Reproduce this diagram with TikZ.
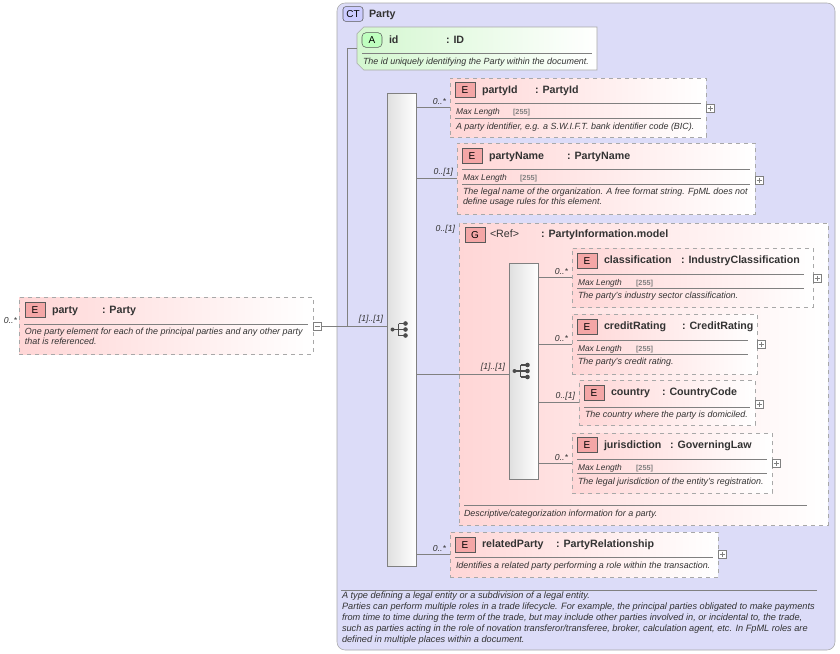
\documentclass[tikz,border=0pt]{standalone}
\usepackage{fontspec}
\setmainfont{Liberation Sans}
\usetikzlibrary{fit,calc}
\definecolor{ctblue}{HTML}{DCDCF8}
\definecolor{elred}{HTML}{FFD6D6}
\definecolor{badgered}{HTML}{F4A6A6}
\definecolor{attgreen}{HTML}{D4F7D0}
\definecolor{frame}{HTML}{A8A8A8}
\begin{document}
\begin{tikzpicture}[x=0.75pt, y=-0.75pt, inner sep=0, outer sep=0,
  elem/.style={draw=frame, dashed, left color=elred, right color=white, line width=0.6pt},
  badge/.style={draw=gray!70!black, fill=badgered, minimum width=15pt, minimum height=11pt, font=\fontsize{7.5}{8}\selectfont},
  ttl/.style={anchor=base west, font=\fontsize{8}{9}\selectfont\bfseries, text=black!80},
  desc/.style={anchor=base west, font=\fontsize{6.7}{7}\selectfont\itshape, text=black!80},
  mlen/.style={anchor=base west, font=\fontsize{6.3}{7}\selectfont\itshape, text=black!80},
  facet/.style={anchor=base west, font=\fontsize{5.5}{7}\selectfont\bfseries, text=gray},
  card/.style={font=\fontsize{6.5}{7}\selectfont\itshape, text=black!80},
  sep/.style={draw=gray, line width=0.5pt},
  link/.style={draw=gray, line width=0.5pt},
  seqbox/.style={draw=gray, left color=gray!25, right color=white, line width=0.5pt},
  togg/.style={draw=gray, fill=white, minimum size=6pt, line width=0.4pt},
  seqicon/.pic={
    \fill[black!70] (-9,0) circle (2);
    \draw[black!70, line width=0.9pt] (-9,0) -- (-3,0) (-3,-6) -- (-3,6) (-3,-6) -- (4,-6) (-3,0) -- (4,0) (-3,6) -- (4,6);
    \fill[black!70] (4,-6) circle (2.3) (4,0) circle (2.3) (4,6) circle (2.3);
  }]
  \useasboundingbox (0,0) rectangle (840,654);

  % complex type
  \node[draw=frame, fill=ctblue, rounded corners=6pt, fit={(337,3)(835,650)}] (ct) {};
  \node[badge, fill=blue!20, rounded corners=2pt] (ctbadge) at (353,14) {CT};
  \node[ttl] (cttitle) at (369,17) {Party};
  \draw[sep] (341,590) -- (817,590);
  \node[desc, align=left, anchor=north west, font=\fontsize{6.9}{8.2}\selectfont\itshape] (ctdesc) at (342,592) {A type defining a legal entity or a subdivision of a legal entity.\\
    Parties can perform multiple roles in a trade lifecycle. For example, the principal parties obligated to make payments\\
    from time to time during the term of the trade, but may include other parties involved in, or incidental to, the trade,\\
    such as parties acting in the role of novation transferor/transferee, broker, calculation agent, etc. In FpML roles are\\
    defined in multiple places within a document.};

  % attribute id
  \node[fit={(357,27)(597,70)}] (id) {};
  \draw[draw=frame, left color=attgreen, right color=white]
    ([xshift=5pt]id.north west) -- (id.north east) -- (id.south east) -- ([xshift=5pt]id.south west)
    -- ([yshift=5pt]id.south west) -- ([yshift=-5pt]id.north west) -- cycle;
  \node[badge, fill=green!25, rounded corners=3pt] (idbadge) at (372,40) {A};
  \node[ttl] (idname) at (389,43) {id};
  \node[ttl] (idtype) at (446,43) {: ID};
  \draw[sep] (362,53) -- (592,53);
  \node[desc] (iddesc) at (363,64) {The id uniquely identifying the Party within the document.};

  % element party
  \node[elem, fit={(19,297)(313,354)}] (party) {};
  \node[badge] (partybadge) at (35,310) {E};
  \node[ttl] (partyname) at (52,313) {party};
  \node[ttl] (partytype) at (102,313) {: Party};
  \draw[sep] (24,324) -- (308,324);
  \node[desc] (partydesc1) at (25,334) {One party element for each of the principal parties and any other party};
  \node[desc] (partydesc2) at (25,344) {that is referenced.};
  \node[card, anchor=base east] (partycard) at (17,323) {0..*};
  \node[togg] (partytog) at (317,326) {};
  \draw[gray] (314.5,326) -- (319.5,326);

  % outer sequence
  \node[seqbox, fit={(387,93)(416,566)}] (outseq) {};
  \pic at (outseq.center) {seqicon};
  \coordinate (ctjoin) at (347,326);
  \draw[link] (partytog.east) -- (ctjoin) |- (id.west);
  \draw[link] (ctjoin) -- (outseq.west |- ctjoin) node[card, pos=1, anchor=south east, xshift=-3pt, yshift=2pt] {[1]..[1]};

  % partyId
  \node[elem, fit={(450,78)(706,137)}] (partyid) {};
  \node[badge] (pidbadge) at (465,90) {E};
  \node[ttl] (pidname) at (482,93) {partyId};
  \node[ttl] (pidtype) at (535,93) {: PartyId};
  \draw[sep] (455,103) -- (701,103);
  \node[mlen] (pidml) at (456,114) {Max Length};
  \node[facet] (pidmlv) at (513,114) {[255]};
  \draw[sep] (455,118) -- (701,118);
  \node[desc] (piddesc) at (456,129) {A party identifier, e.g. a S.W.I.F.T. bank identifier code (BIC).};
  \node[togg] (pidtog) at (710,108) {};
  \draw[link] (outseq.east |- partyid.west) -- (partyid.west) node[card, pos=1, anchor=south east, xshift=-3pt, yshift=2pt] {0..*};

  % partyName
  \node[elem, fit={(457,143)(755,214)}] (partyname) {};
  \node[badge] (pnbadge) at (472,156) {E};
  \node[ttl] (pnname) at (489,159) {partyName};
  \node[ttl] (pntype) at (567,159) {: PartyName};
  \draw[sep] (462,169) -- (750,169);
  \node[mlen] (pnml) at (463,180) {Max Length};
  \node[facet] (pnmlv) at (520,180) {[255]};
  \draw[sep] (462,184) -- (750,184);
  \node[desc] (pndesc1) at (463,194) {The legal name of the organization. A free format string. FpML does not};
  \node[desc] (pndesc2) at (463,204) {define usage rules for this element.};
  \node[togg] (pntog) at (759,180) {};
  \draw[link] (outseq.east |- partyname.west) -- (partyname.west) node[card, pos=1, anchor=south east, xshift=-3pt, yshift=2pt] {0..[1]};

  % group PartyInformation.model
  \node[elem, fit={(459,223)(828,525)}] (grp) {};
  \node[badge] (grpbadge) at (475,235) {G};
  \node[ttl, font=\fontsize{8}{9}\selectfont] (grpname) at (490,237) {<Ref>};
  \node[ttl] (grptype) at (541,237) {: PartyInformation.model};
  \draw[sep] (464,505) -- (807,505);
  \node[desc] (grpdesc) at (464,516) {Descriptive/categorization information for a party.};
  \node[card, anchor=base east] (grpcard) at (455,231) {0..[1]};
  \draw[link] (outseq.east |- grp.west) -- (grp.west);

  % inner sequence
  \node[seqbox, fit={(509,263)(538,479)}] (inseq) {};
  \pic at (inseq.center) {seqicon};
  \draw[link] (grp.west) -- (inseq.west |- grp.west) node[card, pos=1, anchor=south east, xshift=-3pt, yshift=2pt] {[1]..[1]};

  % classification
  \node[elem, fit={(572,248)(813,307)}] (classif) {};
  \node[badge] (clbadge) at (587,261) {E};
  \node[ttl] (clname) at (604,263) {classification};
  \node[ttl] (cltype) at (681,263) {: IndustryClassification};
  \draw[sep] (577,274) -- (804,274);
  \node[mlen] (clml) at (578,285) {Max Length};
  \node[facet] (clmlv) at (636,285) {[255]};
  \draw[sep] (577,288) -- (804,288);
  \node[desc] (cldesc) at (578,298) {The party's industry sector classification.};
  \node[togg] (cltog) at (817,278) {};
  \draw[link] (inseq.east |- classif.west) -- (classif.west) node[card, pos=1, anchor=south east, xshift=-3pt, yshift=2pt] {0..*};

  % creditRating
  \node[elem, fit={(572,314)(757,374)}] (credit) {};
  \node[badge] (crbadge) at (587,327) {E};
  \node[ttl] (crname) at (604,329) {creditRating};
  \node[ttl] (crtype) at (682,329) {: CreditRating};
  \draw[sep] (577,340) -- (748,340);
  \node[mlen] (crml) at (578,351) {Max Length};
  \node[facet] (crmlv) at (636,351) {[255]};
  \draw[sep] (577,354) -- (748,354);
  \node[desc] (crdesc) at (578,364) {The party's credit rating.};
  \node[togg] (crtog) at (761,344) {};
  \draw[link] (inseq.east |- credit.west) -- (credit.west) node[card, pos=1, anchor=south east, xshift=-3pt, yshift=2pt] {0..*};

  % country
  \node[elem, fit={(579,380)(755,425)}] (country) {};
  \node[badge] (cobadge) at (594,393) {E};
  \node[ttl] (coname) at (611,395) {country};
  \node[ttl] (cotype) at (662,395) {: CountryCode};
  \draw[sep] (584,407) -- (750,407);
  \node[desc] (codesc) at (585,417) {The country where the party is domiciled.};
  \node[togg] (cotog) at (759,404) {};
  \draw[link] (inseq.east |- country.west) -- (country.west) node[card, pos=1, anchor=south east, xshift=-3pt, yshift=2pt] {0..[1]};

  % jurisdiction
  \node[elem, fit={(572,433)(772,493)}] (juris) {};
  \node[badge] (jubadge) at (587,445) {E};
  \node[ttl] (juname) at (604,448) {jurisdiction};
  \node[ttl] (jutype) at (670,448) {: GoverningLaw};
  \draw[sep] (577,459) -- (767,459);
  \node[mlen] (juml) at (578,470) {Max Length};
  \node[facet] (jumlv) at (636,470) {[255]};
  \draw[sep] (577,473) -- (767,473);
  \node[desc] (judesc) at (578,484) {The legal jurisdiction of the entity's registration.};
  \node[togg] (jutog) at (776,463) {};
  \draw[link] (inseq.east |- juris.west) -- (juris.west) node[card, pos=1, anchor=south east, xshift=-3pt, yshift=2pt] {0..*};

  % relatedParty
  \node[elem, fit={(450,532)(718,577)}] (related) {};
  \node[badge] (rpbadge) at (465,545) {E};
  \node[ttl] (rpname) at (482,547) {relatedParty};
  \node[ttl] (rptype) at (556,547) {: PartyRelationship};
  \draw[sep] (455,557) -- (713,557);
  \node[desc] (rpdesc) at (456,568) {Identifies a related party performing a role within the transaction.};
  \node[togg] (rptog) at (722,554) {};
  \draw[link] (outseq.east |- related.west) -- (related.west) node[card, pos=1, anchor=south east, xshift=-3pt, yshift=2pt] {0..*};

  % expand marks
  \foreach \t in {pidtog, pntog, cltog, crtog, cotog, jutog, rptog}
    \draw[gray, line width=0.4pt] ($(\t.center)+(-2.5,0)$) -- ($(\t.center)+(2.5,0)$) ($(\t.center)+(0,-2.5)$) -- ($(\t.center)+(0,2.5)$);
\end{tikzpicture}
\end{document}
